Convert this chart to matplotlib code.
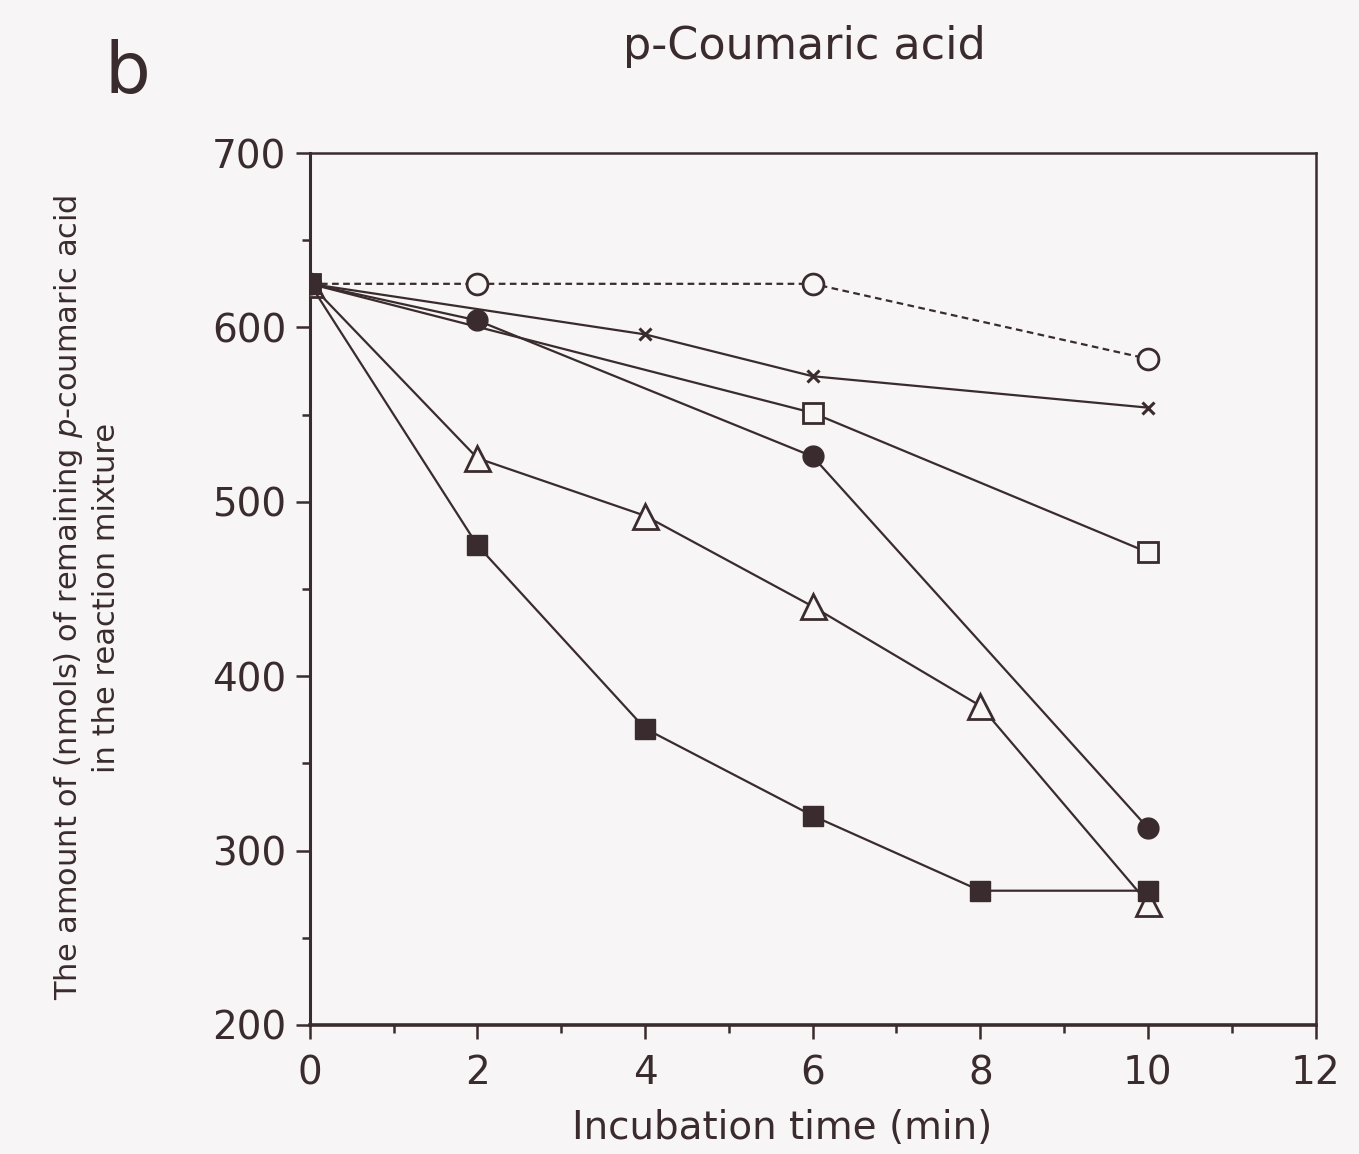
import matplotlib
matplotlib.use("Agg")
import matplotlib.pyplot as plt
from matplotlib.ticker import MultipleLocator

plt.rcParams['font.family'] = ['DejaVu Sans']

# Data
x_open_circle = [0, 2, 6, 10]
y_open_circle = [625, 625, 625, 582]
x_star = [0, 4, 6, 10]
y_star = [625, 596, 572, 554]
x_filled_circle = [0, 2, 6, 10]
y_filled_circle = [625, 604, 526, 313]
x_open_square = [0, 6, 10]
y_open_square = [625, 551, 471]
x_open_tri = [0, 2, 4, 6, 8, 10]
y_open_tri = [625, 525, 492, 440, 383, 270]
x_filled_square = [0, 2, 4, 6, 8, 10]
y_filled_square = [625, 475, 370, 320, 277, 277]

title = "p-Coumaric acid"
panel = "b"
xlabel = "Incubation time (min)"
ylabel = "The amount of (nmols) of remaining $\\it{p}$-coumaric acid\nin the reaction mixture"

ink = '#3a2c2e'
bg = '#f7f5f5'

fig = plt.figure(figsize=(13.59, 11.54), dpi=100, facecolor=bg)
ax = fig.add_axes([0.228, 0.1118, 0.740, 0.7556], facecolor=bg)

lw = 1.6
ax.plot(x_open_circle, y_open_circle, linestyle=(0, (3, 2)), color=ink, lw=lw,
        marker='o', ms=15, mfc=bg, mec=ink, mew=2, zorder=3)
ax.plot(x_star, y_star, '-', color=ink, lw=lw, marker='x', ms=9, mew=2.2, zorder=3)
ax.plot(x_open_square, y_open_square, '-', color=ink, lw=lw,
        marker='s', ms=15, mfc=bg, mec=ink, mew=2, zorder=3)
ax.plot(x_filled_circle, y_filled_circle, '-', color=ink, lw=lw,
        marker='o', ms=15, mfc=ink, mec=ink, zorder=4)
ax.plot(x_open_tri, y_open_tri, '-', color=ink, lw=lw,
        marker='^', ms=18, mfc=bg, mec=ink, mew=2, zorder=3)
ax.plot(x_filled_square, y_filled_square, '-', color=ink, lw=lw,
        marker='s', ms=14, mfc=ink, mec=ink, zorder=4)

ax.set_xlim(0, 12)
ax.set_ylim(200, 700)
ax.xaxis.set_major_locator(MultipleLocator(2))
ax.xaxis.set_minor_locator(MultipleLocator(1))
ax.yaxis.set_major_locator(MultipleLocator(100))
ax.yaxis.set_minor_locator(MultipleLocator(50))
ax.tick_params(which='both', direction='out', color=ink, width=1.8,
               top=False, right=False, labelsize=28, labelcolor=ink)
ax.tick_params(axis='x', which='major', pad=11)
ax.tick_params(axis='y', which='major', pad=7)
ax.tick_params(which='major', length=10)
ax.tick_params(which='minor', length=6)
for s in ax.spines.values():
    s.set_color(ink)
    s.set_linewidth(1.8)
ax.spines['bottom'].set_linewidth(2.6)
ax.spines['left'].set_linewidth(2.2)

ax.set_xlabel(xlabel, fontsize=28, color=ink)
ax.xaxis.label.set_va('center')
ax.xaxis.set_label_coords(0.47, -0.118)
ax.set_ylabel(ylabel, fontsize=22, color=ink, linespacing=1.3)
ax.yaxis.label.set_va('center')
ax.yaxis.set_label_coords(-0.222, 0.49)

fig.text(0.592, 0.960, title, fontsize=32, color=ink, ha='center', va='center')
fig.text(0.094, 0.936, panel, fontsize=52, color=ink, ha='center', va='center')

fig.savefig('out.png', dpi=100, facecolor=bg)
